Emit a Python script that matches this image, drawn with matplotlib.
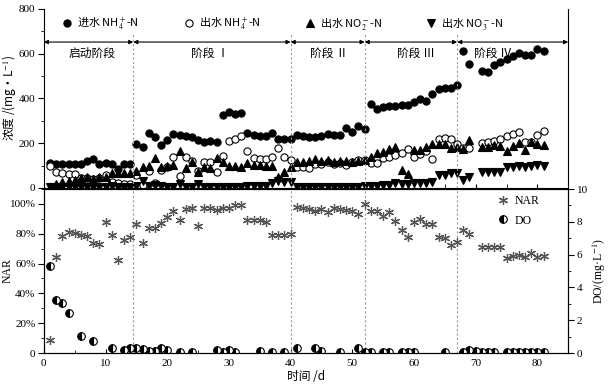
import matplotlib
matplotlib.use('Agg')
import matplotlib.pyplot as plt
from matplotlib.ticker import MultipleLocator, FuncFormatter

plt.rcParams['font.family'] = ['Liberation Serif', 'Noto Sans CJK SC', 'DejaVu Serif']
plt.rcParams['mathtext.fontset'] = 'stix'
plt.rcParams['axes.unicode_minus'] = False
plt.rcParams['font.size'] = 8

# ---------------- data ----------------
days = [1, 2, 3, 4, 5, 6, 7, 8, 9, 10, 11, 12, 13, 14,
        15, 16, 17, 18, 19, 20, 21, 22, 23, 24, 25, 26, 27, 28, 29, 30,
        31, 32, 33, 34, 35, 36, 37, 38, 39, 40,
        41, 42, 43, 44, 45, 46, 47, 48, 49, 50, 51,
        52, 53, 54, 55, 56, 57, 58, 59, 60, 61, 62, 63, 64, 65, 66, 67,
        68, 69,
        71, 72, 73, 74, 75, 76, 77, 78, 79, 80, 81]

inf_nh4 = [110, 106, 107, 109, 109, 106, 121, 128, 106, 110, 107, 85, 107, 107,
           197, 183, 245, 230, 193, 215, 243, 235, 232, 228, 215, 205, 208, 207, 326, 340,
           329, 334, 247, 235, 233, 232, 244, 221, 221, 217,
           237, 234, 230, 230, 234, 240, 237, 238, 268, 252, 277,
           262, 375, 355, 363, 366, 368, 370, 372, 384, 398, 389, 420, 442, 446, 446, 462,
           613, 554,
           523, 519, 550, 561, 578, 590, 605, 592, 592, 620, 611]

eff_nh4 = [97, 73, 68, 64, 61, 44, 43, 42, 45, 58, 28, 22, 20, 20,
           60, 14, 75, 23, 80, 95, 138, 55, 137, 121, 78, 118, 118, 72, 144, 209,
           219, 232, 165, 132, 130, 130, 138, 179, 138, 127,
           95, 95, 88, 105, 107, 116, 107, 110, 103, 118, 127,
           125, 110, 110, 133, 139, 147, 155, 174, 140, 152, 167, 128, 218, 225, 218, 197,
           177, 177,
           203, 207, 211, 218, 232, 240, 248, 207, 207, 237, 255]

eff_no2 = [6, 16, 28, 33, 36, 45, 50, 42, 50, 50, 66, 68, 68, 68,
           75, 95, 97, 136, 95, 98, 103, 164, 90, 118, 70, 95, 91, 136, 118, 98,
           98, 95, 110, 103, 103, 100, 98, 51, 73, 95,
           118, 118, 121, 128, 121, 125, 118, 121, 121, 118, 121,
           125, 140, 155, 162, 174, 185, 80, 63, 170, 170, 185, 197, 197, 197, 177, 185,
           175, 213,
           185, 185, 192, 188, 165, 189, 203, 170, 207, 195, 192]

eff_no3 = [3, 4, 5, 6, 6, 5, 6, 5, 5, 6, 7, 6, 6, 5,
           10, 31, 10, 15, 8, 6, 6, 16, 6, 5, 16, 5, 4, 4, 4, 4,
           4, 4, 8, 8, 8, 8, 22, 30, 25, 28,
           4, 4, 5, 4, 5, 4, 5, 5, 4, 5, 5,
           8, 9, 9, 13, 13, 21, 18, 19, 21, 24, 24, 28, 56, 60, 66, 68,
           36, 50,
           73, 71, 71, 73, 93, 95, 98, 95, 98, 103, 98]

nar = [8.7, 64.6, 78.5, 81, 80.5, 79, 78.5, 74, 73, 88, 79, 62.4, 76, 78,
       86.6, 74, 84, 83.6, 87, 91, 95.5, 89, 96.6, 97, 85, 97.5, 97.5, 96, 97, 97.5,
       99.3, 99.3, 89, 89, 89, 88, 79, 79, 79, 79.7,
       97.8, 97.5, 96.6, 95.3, 96.6, 94.4, 97, 96.6, 96, 95, 93,
       100, 95.3, 95.3, 92, 94.4, 88.8, 82.5, 78, 87.7, 90, 86.6, 86.6, 78, 77, 72.5, 74.7,
       82.5, 79.6,
       71.4, 70.9, 70.9, 70.9, 64, 65.3, 66, 64.2, 67.3, 64.6, 65.3]

do_days = [1, 2, 3, 4, 6, 8, 11, 13, 14, 15, 16, 17, 18, 19, 20, 22, 24, 28, 29, 30,
           31, 35, 37, 39, 41, 44, 45, 48, 51, 52, 53, 55, 56, 58, 59, 60, 65, 68, 69, 70,
           71, 72, 73, 75, 76, 77, 78, 79, 80, 81]
do_vals = [5.3, 3.25, 3.05, 2.43, 1.04, 0.76, 0.33, 0.18, 0.33, 0.33,
           0.25, 0.1, 0.1, 0.3, 0.18, 0.05, 0.05, 0.18, 0.05, 0.18,
           0.05, 0.1, 0.05, 0.05, 0.33, 0.3, 0.1, 0.05, 0.33, 0.05,
           0.05, 0.05, 0.05, 0.05, 0.05, 0.05, 0.05, 0.05, 0.2, 0.1,
           0.05, 0.05, 0.05, 0.05, 0.05, 0.05, 0.05, 0.05, 0.05, 0.05]

stage_edges = [0, 14.5, 40, 52, 67, 85]
stage_names = ['启动阶段', '阶段 Ⅰ', '阶段 Ⅱ', '阶段 Ⅲ', '阶段 Ⅳ']
stage_label_x = [7.8, 27, 46.2, 60.3, 72.8]

labels_conc = ['进水 NH$_4^+$-N', '出水 NH$_4^+$-N', '出水 NO$_2^-$-N', '出水 NO$_3^-$-N']

# ---------------- figure ----------------
fig = plt.figure(figsize=(6.09, 3.88), dpi=100)
L, W = 0.072, 0.861
ax1 = fig.add_axes([L, 0.5155, W, 0.4615])
ax2 = fig.add_axes([L, 0.0902, W, 0.4225])
ax3 = ax2.twinx()

cjk = ['Noto Sans CJK SC', 'Liberation Serif', 'DejaVu Serif']
ms = 5.2

h1, = ax1.plot(days, inf_nh4, 'o', ms=ms, mfc='k', mec='k', mew=0.8, ls='none')
h2, = ax1.plot(days, eff_nh4, 'o', ms=ms, mfc='white', mec='k', mew=0.8, ls='none')
h3, = ax1.plot(days, eff_no2, '^', ms=ms, mfc='k', mec='k', mew=0.8, ls='none')
h4, = ax1.plot(days, eff_no3, 'v', ms=ms, mfc='k', mec='k', mew=0.8, ls='none')

ax1.set_xlim(0, 85)
ax1.set_ylim(0, 800)
ax1.spines['top'].set_visible(False)
ax1.yaxis.set_major_locator(MultipleLocator(200))
ax1.yaxis.set_minor_locator(MultipleLocator(100))
ax1.xaxis.set_major_locator(MultipleLocator(10))
ax1.xaxis.set_minor_locator(MultipleLocator(5))
ax1.tick_params(axis='x', which='both', direction='in', labelbottom=False, length=3)
ax1.tick_params(axis='y', which='major', direction='out', length=4, pad=2)
ax1.tick_params(axis='y', which='minor', direction='out', length=2)
ax1.set_ylabel('浓度 /(mg·L$^{-1}$)', family=cjk, fontsize=8.5)
ax1.yaxis.set_label_coords(-0.05, 0.5)

# stage dividers, arrows and names
arrow_y = 652
for b in stage_edges[1:-1]:
    ax1.vlines(b, 0, 690, colors='#9a9a9a', linestyles=(0, (2, 2)), lw=0.8)
    ax2.axvline(b, color='#9a9a9a', ls=(0, (2, 2)), lw=0.8)
for a, b, nm, xl in zip(stage_edges[:-1], stage_edges[1:], stage_names, stage_label_x):
    ax1.annotate('', xy=(b, arrow_y), xytext=(a, arrow_y),
                 arrowprops=dict(arrowstyle='<|-|>', lw=0.8, color='k',
                                 shrinkA=0, shrinkB=0, mutation_scale=6),
                 annotation_clip=False)
    ax1.text(xl, 603, nm, ha='center', va='center', fontsize=8.5,
             family=['Noto Sans CJK SC', 'DejaVu Serif'])

leg1 = ax1.legend([h1, h2, h3, h4], labels_conc, ncol=4, loc='upper left',
                  bbox_to_anchor=(0.028, 0.985), frameon=False, handlelength=0.8,
                  handletextpad=0.5, columnspacing=4.05, borderaxespad=0,
                  prop={'family': 'Noto Sans CJK SC', 'size': 8})

# bottom panel
hn, = ax2.plot(days, nar, marker=(6, 2, 0), ms=6.5, color='#555555', mew=0.9, ls='none')
hd, = ax3.plot(do_days, do_vals, 'o', ms=5.5, fillstyle='left', mfc='k',
               markerfacecoloralt='white', mec='k', mew=0.8, ls='none')
ax2.set_xlim(0, 85)
ax2.set_ylim(0, 110)
ax3.set_ylim(0, 10)
ax2.xaxis.set_major_locator(MultipleLocator(10))
ax2.xaxis.set_minor_locator(MultipleLocator(5))
ax2.set_yticks([0, 20, 40, 60, 80, 100])
ax2.yaxis.set_minor_locator(MultipleLocator(10))
ax2.yaxis.set_major_formatter(FuncFormatter(lambda v, p: '0' if v == 0 else '%d%%' % v))
ax3.yaxis.set_major_locator(MultipleLocator(2))
ax3.yaxis.set_minor_locator(MultipleLocator(1))
ax2.tick_params(axis='x', which='major', direction='in', length=3, pad=4)
ax2.tick_params(axis='x', which='minor', direction='in', length=2)
ax2.tick_params(axis='y', which='major', direction='out', length=4, pad=2)
ax2.tick_params(axis='y', which='minor', direction='out', length=2)
ax3.tick_params(axis='y', which='major', direction='out', length=4, pad=2)
ax3.tick_params(axis='y', which='minor', direction='out', length=2)
ax2.set_ylabel('NAR', fontsize=8.5)
ax2.yaxis.set_label_coords(-0.058, 0.5)
ax3.set_ylabel('DO/(mg·L$^{-1}$)', fontsize=8.5)
ax3.yaxis.set_label_coords(1.042, 0.5)
ax2.set_xlabel('时间 /d', family=cjk, fontsize=8.5, labelpad=2)

leg2 = ax3.legend([hn, hd], ['NAR', 'DO'], loc='upper right', bbox_to_anchor=(0.955, 0.99),
                  frameon=False, handlelength=1.0, handletextpad=0.5, labelspacing=0.6,
                  borderaxespad=0, prop={'size': 8.5})

fig.savefig('out.png', dpi=100)
